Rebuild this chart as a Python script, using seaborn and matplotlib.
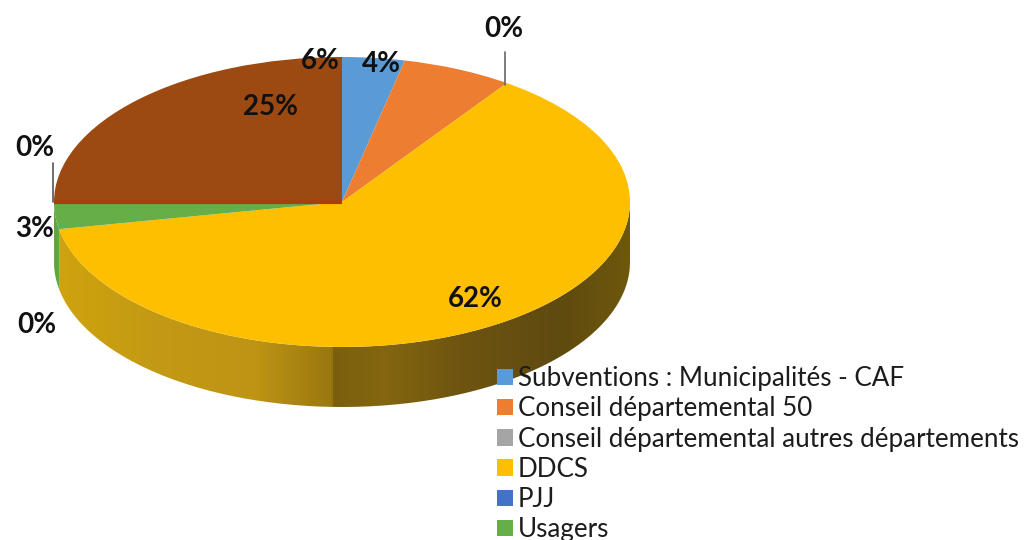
import numpy as np
import matplotlib
matplotlib.use("Agg")
import matplotlib.pyplot as plt
import seaborn as sns
from matplotlib.colors import LinearSegmentedColormap
from matplotlib.patches import PathPatch
from matplotlib.path import Path

# Data
legend_labels = ["Subventions : Municipalités - CAF", "Conseil départemental 50",
                 "Conseil départemental autres départements", "DDCS", "PJJ", "Usagers"]
values = [3.5, 6.2, 0, 62.3, 0, 3, 0, 25]
value_labels = ["4%", "6%", "0%", "62%", "0%", "3%", "0%", "25%"]
slice_colors = ["#5B9BD5", "#ED7D31", "#A5A5A5", "#FDBF00", "#4472C4", "#66AE47", "#255E91", "#9C4A12"]

# Where things sit on the 1026x540 canvas
W, H = 1026, 540
CX, CY, RX, RY = 342, 202, 288, 145
DEPTH = 60 / RY
label_pos = [(381, 64), (320, 61), (504, 29), (475, 299), (37, 325), (35, 229), (35, 148), (270, 107)]

# Gradient along the side wall, per slice (x in pixels, colour)
wall_stops = {
    3: [(0, "#D2A60C"), (58, "#CFA30E"), (150, "#C39A14"), (255, "#BE9414"), (331, "#9A7810"),
        (333, "#7C5F0E"), (385, "#84660F"), (460, "#6E5410"), (560, "#5F4A10"), (630, "#6E580C"), (1026, "#6E580C")],
    5: [(0, "#5F9F3E"), (53, "#5F9F3E"), (60, "#6FAE4A"), (1026, "#6FAE4A")],
}

sns.set_theme(style="white")
plt.rcParams["font.family"] = ["Lato", "DejaVu Sans"]

fig = plt.figure(figsize=(W / 100, H / 100), dpi=100)
ax = fig.add_axes([0, 0, 1, 1])
palette = sns.color_palette(slice_colors)
wedges, _ = ax.pie(values, colors=palette, startangle=90, counterclock=False,
                   wedgeprops={"linewidth": 0})
ax.set_aspect("auto")
xlim = (-CX / RX, (W - CX) / RX)
ylim = ((CY - H) / RY, CY / RY)


def wall_path(t0, t1):
    # outer edge between two angles, pushed down by the depth of the pie
    t = np.radians(np.linspace(t0, t1, 200))
    x, y = np.cos(t), np.sin(t)
    verts = np.r_[np.c_[x, y], np.c_[x[::-1], y[::-1] - DEPTH], [[x[0], y[0]]]]
    return Path(verts)


# Side wall, only the part facing the viewer
edges = 90 - 3.6 * np.cumsum([0] + values)
for i, v in enumerate(values):
    t_hi, t_lo = min(edges[i], 0), max(edges[i + 1], -180)
    if v == 0 or t_hi <= t_lo:
        continue
    stops = [((x / W), c) for x, c in wall_stops[i]]
    cmap = LinearSegmentedColormap.from_list(f"wall{i}", stops, N=512)
    img = ax.imshow(np.linspace(0, 1, 1026).reshape(1, -1), cmap=cmap, aspect="auto",
                    extent=(xlim[0], xlim[1], ylim[0], ylim[1]), zorder=0)
    patch = PathPatch(wall_path(t_hi, t_lo), transform=ax.transData, fc="none", ec="none")
    ax.add_patch(patch)
    img.set_clip_path(patch)

# Reddish edge of the brown slice along the green one
t_edge = np.radians(edges[7])
ax.plot([0, np.cos(t_edge)], [0, np.sin(t_edge)], color="#A83F10", lw=3, zorder=1.5,
        solid_capstyle="butt")

ax.set_xlim(xlim)
ax.set_ylim(ylim)
ax.set_aspect("auto")


def to_fig(x, y):
    return x / W, 1 - y / H


# Leader lines of the two empty slices
for (x, y0, y1), col in zip([(505, 52, 85), (53, 163, 202)], ["#666666", "#555555"]):
    fig.add_artist(plt.Line2D(*zip(to_fig(x, y0), to_fig(x, y1)), color=col, lw=1.2))

for (x, y), lab in zip(label_pos, value_labels):
    fx, fy = to_fig(x, y)
    fig.text(fx, fy, lab, ha="center", va="center", fontsize=20, fontweight="bold", color="#111111")

leg = ax.legend(wedges[:6], legend_labels, loc="upper left", bbox_to_anchor=to_fig(492, 361),
                bbox_transform=fig.transFigure, frameon=False, fontsize=18.7, labelcolor="#1c1c1c",
                handlelength=0.6, handleheight=0.6, handletextpad=0.2,
                labelspacing=0.2, borderpad=0.2, borderaxespad=0)

fig.savefig("out.png", dpi=100, facecolor="white")
